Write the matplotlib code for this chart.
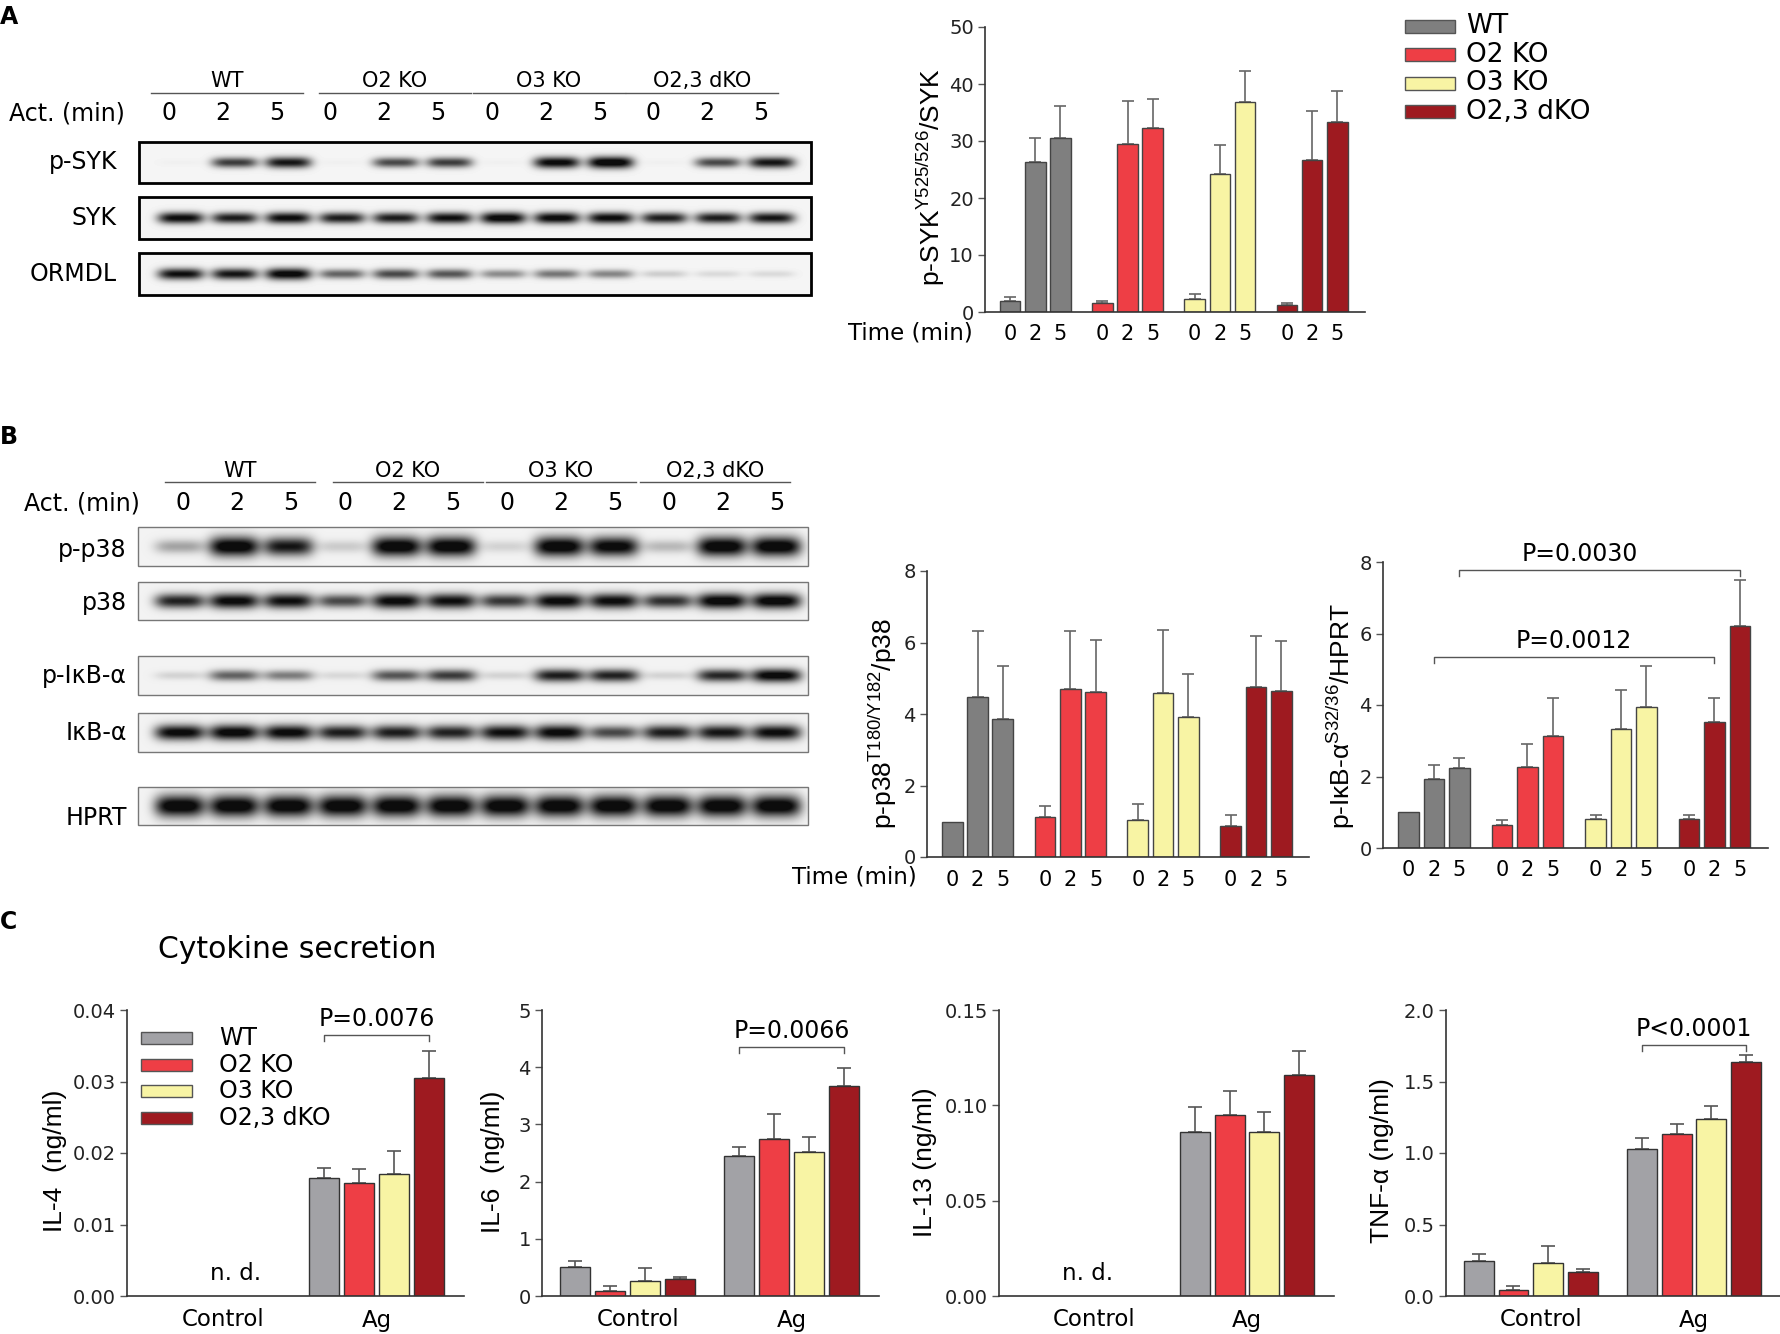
import numpy as np
import matplotlib.pyplot as plt
from matplotlib.patches import Rectangle

plt.rcParams['font.family'] = ['DejaVu Sans']
plt.rcParams['mathtext.fontset'] = 'custom'
plt.rcParams['mathtext.rm'] = 'Liberation Sans'
plt.rcParams['mathtext.it'] = 'Liberation Sans:italic'
plt.rcParams['mathtext.bf'] = 'Liberation Sans:bold'
YFONT = ['Liberation Sans', 'DejaVu Sans']

# ---- data ----
genotypes = ['WT', 'O2 KO', 'O3 KO', 'O2,3 dKO']
times = ['0', '2', '5']
conditions = ['Control', 'Ag']

# A: p-SYK / SYK (mean, upper SEM) per genotype x time
psyk_mean = [[1.9, 26.4, 30.6], [1.5, 29.4, 32.3], [2.2, 24.2, 36.8], [1.3, 26.6, 33.4]]
psyk_err = [[0.8, 4.2, 5.6], [0.5, 7.6, 5.0], [1.0, 5.1, 5.4], [0.2, 8.6, 5.3]]

# B: p-p38 / p38 and p-IkB-a / HPRT
pp38_mean = [[0.98, 4.48, 3.86], [1.13, 4.70, 4.62], [1.03, 4.59, 3.92], [0.88, 4.75, 4.65]]
pp38_err = [[0.0, 1.83, 1.48], [0.30, 1.63, 1.46], [0.44, 1.76, 1.21], [0.29, 1.43, 1.40]]
pikb_mean = [[1.0, 1.93, 2.23], [0.64, 2.27, 3.12], [0.80, 3.33, 3.94], [0.82, 3.52, 6.20]]
pikb_err = [[0.0, 0.38, 0.28], [0.14, 0.63, 1.08], [0.13, 1.08, 1.14], [0.09, 0.67, 1.29]]

# C: cytokines (ng/ml), NaN = not detected
il4_ctrl = [np.nan, np.nan, np.nan, np.nan]
il4_ctrl_err = [0, 0, 0, 0]
il4_ag = [0.0165, 0.0158, 0.0171, 0.0305]
il4_ag_err = [0.0014, 0.0020, 0.0032, 0.0037]
il6_ctrl = [0.50, 0.09, 0.27, 0.30]
il6_ctrl_err = [0.12, 0.085, 0.22, 0.03]
il6_ag = [2.44, 2.74, 2.51, 3.67]
il6_ag_err = [0.16, 0.45, 0.27, 0.32]
il13_ctrl = [np.nan, np.nan, np.nan, np.nan]
il13_ctrl_err = [0, 0, 0, 0]
il13_ag = [0.0858, 0.0947, 0.0858, 0.116]
il13_ag_err = [0.0135, 0.0128, 0.0105, 0.0124]
tnf_ctrl = [0.244, 0.040, 0.230, 0.165]
tnf_ctrl_err = [0.049, 0.032, 0.123, 0.021]
tnf_ag = [1.028, 1.130, 1.237, 1.633]
tnf_ag_err = [0.077, 0.070, 0.091, 0.053]

# western blot band darkness (0..1), 12 lanes: WT 0/2/5, O2 KO, O3 KO, O2,3 dKO
psyk_band = [0.02, 0.70, 0.85, 0.02, 0.65, 0.70, 0.02, 0.92, 1.0, 0.02, 0.65, 0.85]
syk_band = [0.90, 0.82, 0.90, 0.82, 0.82, 0.88, 0.95, 0.92, 0.90, 0.82, 0.82, 0.85]
ormdl_band = [0.88, 0.85, 0.95, 0.55, 0.65, 0.60, 0.40, 0.48, 0.42, 0.15, 0.10, 0.10]
pp38_band = [0.30, 1.0, 0.85, 0.15, 1.0, 1.0, 0.12, 1.0, 0.95, 0.22, 1.0, 1.0]
p38_band = [0.80, 0.92, 0.88, 0.65, 0.92, 0.88, 0.72, 0.92, 0.90, 0.75, 0.97, 0.97]
pikb_band = [0.12, 0.55, 0.45, 0.10, 0.60, 0.70, 0.12, 0.82, 0.80, 0.12, 0.78, 0.95]
ikb_band = [0.92, 0.95, 0.92, 0.82, 0.82, 0.80, 0.88, 0.92, 0.65, 0.82, 0.85, 0.90]
hprt_band = [1.0, 1.0, 1.0, 1.0, 1.0, 1.0, 1.0, 1.0, 1.0, 1.0, 1.0, 1.0]

COLORS_AB = ['#7f7f7f', '#ee3e45', '#f8f4a4', '#9e1a20']
COLORS_C = ['#a2a2a6', '#ee3e45', '#f8f4a4', '#9e1a20']

W, H = 1781, 1334
fig = plt.figure(figsize=(W / 100, H / 100), dpi=100)

# overlay in pixel coords for blots and free text
ov = fig.add_axes([0, 0, 1, 1])
ov.set_xlim(0, W)
ov.set_ylim(H, 0)
ov.axis('off')
ov.set_autoscale_on(False)


def add_ax(l, t, r, b):
    return fig.add_axes([l / W, 1 - b / H, (r - l) / W, (b - t) / H])


def draw_blot(x0, x1, y0, y1, lanes, levels, hw, hh, bg, lw, ec):
    X, Y = np.meshgrid(np.arange(x0, x1) + 0.5, np.arange(y0, y1) + 0.5)
    yc = 0.5 * (y0 + y1)
    dark = np.zeros_like(X)
    for xc, lv in zip(lanes, levels):
        dark += lv * np.exp(-np.abs((X - xc) / hw) ** 4) * \
            np.exp(-((Y - yc) / (hh * (0.55 + 0.45 * lv))) ** 2)
    img = bg - (bg - 0.05) * np.clip(dark * 1.15, 0, 1)
    ov.imshow(img, extent=(x0, x1, y1, y0), cmap='gray', vmin=0, vmax=1,
              aspect='auto', interpolation='bilinear', zorder=1)
    ov.add_patch(Rectangle((x0, y0), x1 - x0, y1 - y0, fill=False, lw=lw, ec=ec, zorder=2))


def blot_header(centers, half, ytxt, yline, lane_txt_x, ylane, xact):
    for c, name in zip(centers, genotypes):
        ov.text(c, ytxt, name, ha='center', va='center', fontsize=15)
        ov.plot([c - half, c + half], [yline, yline], color='#555555', lw=1)
    for i, x in enumerate(lane_txt_x):
        ov.text(x, ylane, times[i % 3], ha='center', va='center', fontsize=17)
    ov.text(xact, ylane, 'Act. (min)', ha='left', va='center', fontsize=17)


# ---- panel A blot ----
A_LANES = 181 + 53.7 * np.arange(12)
blot_header([227, 395, 549, 702], 76, 81, 93, 169 + 53.8 * np.arange(12), 113, 9)
for (y0, y1, lab, lv) in [(142, 183, 'p-SYK', psyk_band), (197, 239, 'SYK', syk_band),
                          (253, 295, 'ORMDL', ormdl_band)]:
    draw_blot(139, 811, y0, y1, A_LANES, lv, 23, 6, 0.96, 2.0, 'black')
    ov.text(117, 0.5 * (y0 + y1), lab, ha='right', va='center', fontsize=17)

# ---- panel B blot ----
B_LANES = 180 + 54.2 * np.arange(12)
blot_header([240, 408, 561, 715], 75, 471, 482, 183 + 54.0 * np.arange(12), 503, 24)
for (y0, y1, lab, lv, hh, ly) in [(527, 566, 'p-p38', pp38_band, 10, 550),
                                  (582, 620, 'p38', p38_band, 8, 603),
                                  (656, 695, 'p-IκB-α', pikb_band, 7, 676),
                                  (713, 752, 'IκB-α', ikb_band, 8, 733),
                                  (787, 825, 'HPRT', hprt_band, 11, 818)]:
    draw_blot(138, 808, y0, y1, B_LANES, lv, 25, hh, 0.95, 1.0, '#777777')
    ov.text(127, ly, lab, ha='right', va='center', fontsize=17)

# panel letters and titles
for letter, y in [('A', 17), ('B', 437), ('C', 922)]:
    ov.text(0, y, letter, ha='left', va='center', fontsize=17, fontweight='bold')
ov.text(297, 950, 'Cytokine secretion', ha='center', va='center', fontsize=21.5)


def style_axis(ax, ylim, yticks, ylabels):
    ax.set_ylim(*ylim)
    ax.set_yticks(yticks)
    ax.set_yticklabels(ylabels)
    for s in ['top', 'right']:
        ax.spines[s].set_visible(False)
    for s in ['left', 'bottom']:
        ax.spines[s].set_color('#333333')
        ax.spines[s].set_linewidth(1.2)
    ax.tick_params(axis='y', direction='out', length=5, width=1, color='#555555',
                   labelsize=14, pad=3, labelcolor='#222222')
    ax.tick_params(axis='x', length=0)
    ax.patch.set_alpha(0)


GAP_T = 3.67


def time_chart(ax, means, errs, ylim, yticks, ylabels):
    means = np.array(means)
    errs = np.array(errs)
    pos = []
    for g in range(4):
        xs = g * GAP_T + np.arange(3)
        pos.extend(xs)
        ax.bar(xs, means[g], width=0.82, color=COLORS_AB[g], edgecolor='#444444',
               linewidth=1, zorder=2)
        m = errs[g] > 0
        ax.errorbar(xs[m], means[g][m], yerr=[np.zeros(m.sum()), errs[g][m]], fmt='none',
                    ecolor='#666666', elinewidth=1.2, capsize=4, capthick=1.2, zorder=1)
    ax.set_xlim(-1.0, 3 * GAP_T + 2 + 1.1)
    ax.set_xticks(pos)
    ax.set_xticklabels(times * 4, fontsize=15)
    ax.tick_params(axis='x', pad=9)
    style_axis(ax, ylim, yticks, ylabels)


def bracket(ax, x1, x2, y, d, text, dx=0):
    ax.plot([x1, x1, x2, x2], [y - d, y, y, y - d], color='#555555', lw=1, clip_on=False)
    ax.annotate(text, ((x1 + x2) / 2, y), xytext=(dx, 3), textcoords='offset points',
                ha='center', va='bottom', fontsize=17)


# A chart
axA = add_ax(985, 27, 1365, 312)
time_chart(axA, psyk_mean, psyk_err, (0, 50), [0, 10, 20, 30, 40, 50],
           ['0', '10', '20', '30', '40', '50'])
ov.text(931, 177, r'p-SYK$^{\mathrm{Y525/526}}$/SYK', rotation=90, ha='center',
        va='center', fontsize=19, family=YFONT)
ov.text(848, 333, 'Time (min)', ha='left', va='center', fontsize=16.5)

# legend A
for i, (name, c) in enumerate(zip(genotypes, COLORS_AB)):
    yy = 26 + 28.5 * i
    ov.add_patch(Rectangle((1405, yy - 6.5), 50, 13, fc=c, ec='#555555', lw=1))
    ov.text(1466, yy, name, ha='left', va='center', fontsize=19)

# B charts
axB1 = add_ax(927, 571, 1309, 857)
time_chart(axB1, pp38_mean, pp38_err, (0, 8), [0, 2, 4, 6, 8], ['0', '2', '4', '6', '8'])
ov.text(883, 724, r'p-p38$^{\mathrm{T180/Y182}}$/p38', rotation=90, ha='center',
        va='center', fontsize=19, family=YFONT)
ov.text(792, 877, 'Time (min)', ha='left', va='center', fontsize=16.5)

axB2 = add_ax(1383, 562, 1768, 848)
time_chart(axB2, pikb_mean, pikb_err, (0, 8), [0, 2, 4, 6, 8], ['0', '2', '4', '6', '8'])
ov.text(1341, 716, r'p-IκB-α$^{\mathrm{S32/36}}$/HPRT', rotation=90, ha='center',
        va='center', fontsize=19, family=YFONT)
bracket(axB2, 0 * GAP_T + 2, 3 * GAP_T + 2, 7.77, 0.17, 'P=0.0030', dx=-14)
bracket(axB2, 0 * GAP_T + 1, 3 * GAP_T + 1, 5.34, 0.17, 'P=0.0012')

# C charts
GAP_C = 4.69


def cyto_chart(ax, ctrl, ctrl_err, ag, ag_err, ylim, yticks, ylabels, nd_x=None):
    for k in range(4):
        xs = np.array([0, GAP_C]) + k
        vals = np.array([ctrl[k], ag[k]], dtype=float)
        errs = np.array([ctrl_err[k], ag_err[k]], dtype=float)
        m = ~np.isnan(vals)
        ax.bar(xs[m], vals[m], width=0.86, color=COLORS_C[k], edgecolor='#333333',
               linewidth=1, zorder=2)
        ax.errorbar(xs[m], vals[m], yerr=[np.zeros(m.sum()), errs[m]], fmt='none',
                    ecolor='#555555', elinewidth=1.2, capsize=5, capthick=1.2, zorder=1)
    ax.set_xlim(-0.94, GAP_C + 3 + 1.0)
    ax.set_xticks([1.8, GAP_C + 1.5])
    ax.set_xticklabels(conditions, fontsize=16.5)
    ax.tick_params(axis='x', pad=9)
    style_axis(ax, ylim, yticks, ylabels)
    if nd_x is not None:
        ax.annotate('n. d.', (nd_x, 0), xytext=(0, 8), textcoords='offset points',
                    ha='center', va='bottom', fontsize=16.5)


axC1 = add_ax(127, 1010, 464, 1296)
cyto_chart(axC1, il4_ctrl, il4_ctrl_err, il4_ag, il4_ag_err, (0, 0.04),
           [0, 0.01, 0.02, 0.03, 0.04], ['0.00', '0.01', '0.02', '0.03', '0.04'], nd_x=2.15)
bracket(axC1, GAP_C, GAP_C + 3, 0.0365, 0.0008, 'P=0.0076')
ov.text(55, 1161, 'IL-4  (ng/ml)', rotation=90, ha='center', va='center', fontsize=19,
        family=YFONT)

axC2 = add_ax(542, 1010, 879, 1296)
cyto_chart(axC2, il6_ctrl, il6_ctrl_err, il6_ag, il6_ag_err, (0, 5),
           [0, 1, 2, 3, 4, 5], ['0', '1', '2', '3', '4', '5'])
bracket(axC2, GAP_C, GAP_C + 3, 4.35, 0.1, 'P=0.0066')
ov.text(493, 1162, 'IL-6  (ng/ml)', rotation=90, ha='center', va='center', fontsize=19,
        family=YFONT)

axC3 = add_ax(999, 1010, 1334, 1296)
cyto_chart(axC3, il13_ctrl, il13_ctrl_err, il13_ag, il13_ag_err, (0, 0.15),
           [0, 0.05, 0.10, 0.15], ['0.00', '0.05', '0.10', '0.15'], nd_x=1.62)
ov.text(925, 1162, 'IL-13 (ng/ml)', rotation=90, ha='center', va='center', fontsize=19,
        family=YFONT)

axC4 = add_ax(1446, 1010, 1781, 1296)
cyto_chart(axC4, tnf_ctrl, tnf_ctrl_err, tnf_ag, tnf_ag_err, (0, 2.0),
           [0, 0.5, 1.0, 1.5, 2.0], ['0.0', '0.5', '1.0', '1.5', '2.0'])
bracket(axC4, GAP_C, GAP_C + 3, 1.756, 0.042, 'P<0.0001')
ov.text(1382, 1161, 'TNF-α (ng/ml)', rotation=90, ha='center', va='center', fontsize=19,
        family=YFONT)

# legend C
for i, (name, c) in enumerate(zip(genotypes, COLORS_C)):
    yy = 1038 + 26.7 * i
    ov.add_patch(Rectangle((141, yy - 6), 51, 12, fc=c, ec='#555555', lw=1))
    ov.text(219, yy, name, ha='left', va='center', fontsize=17)

fig.savefig('out.png', dpi=100)
